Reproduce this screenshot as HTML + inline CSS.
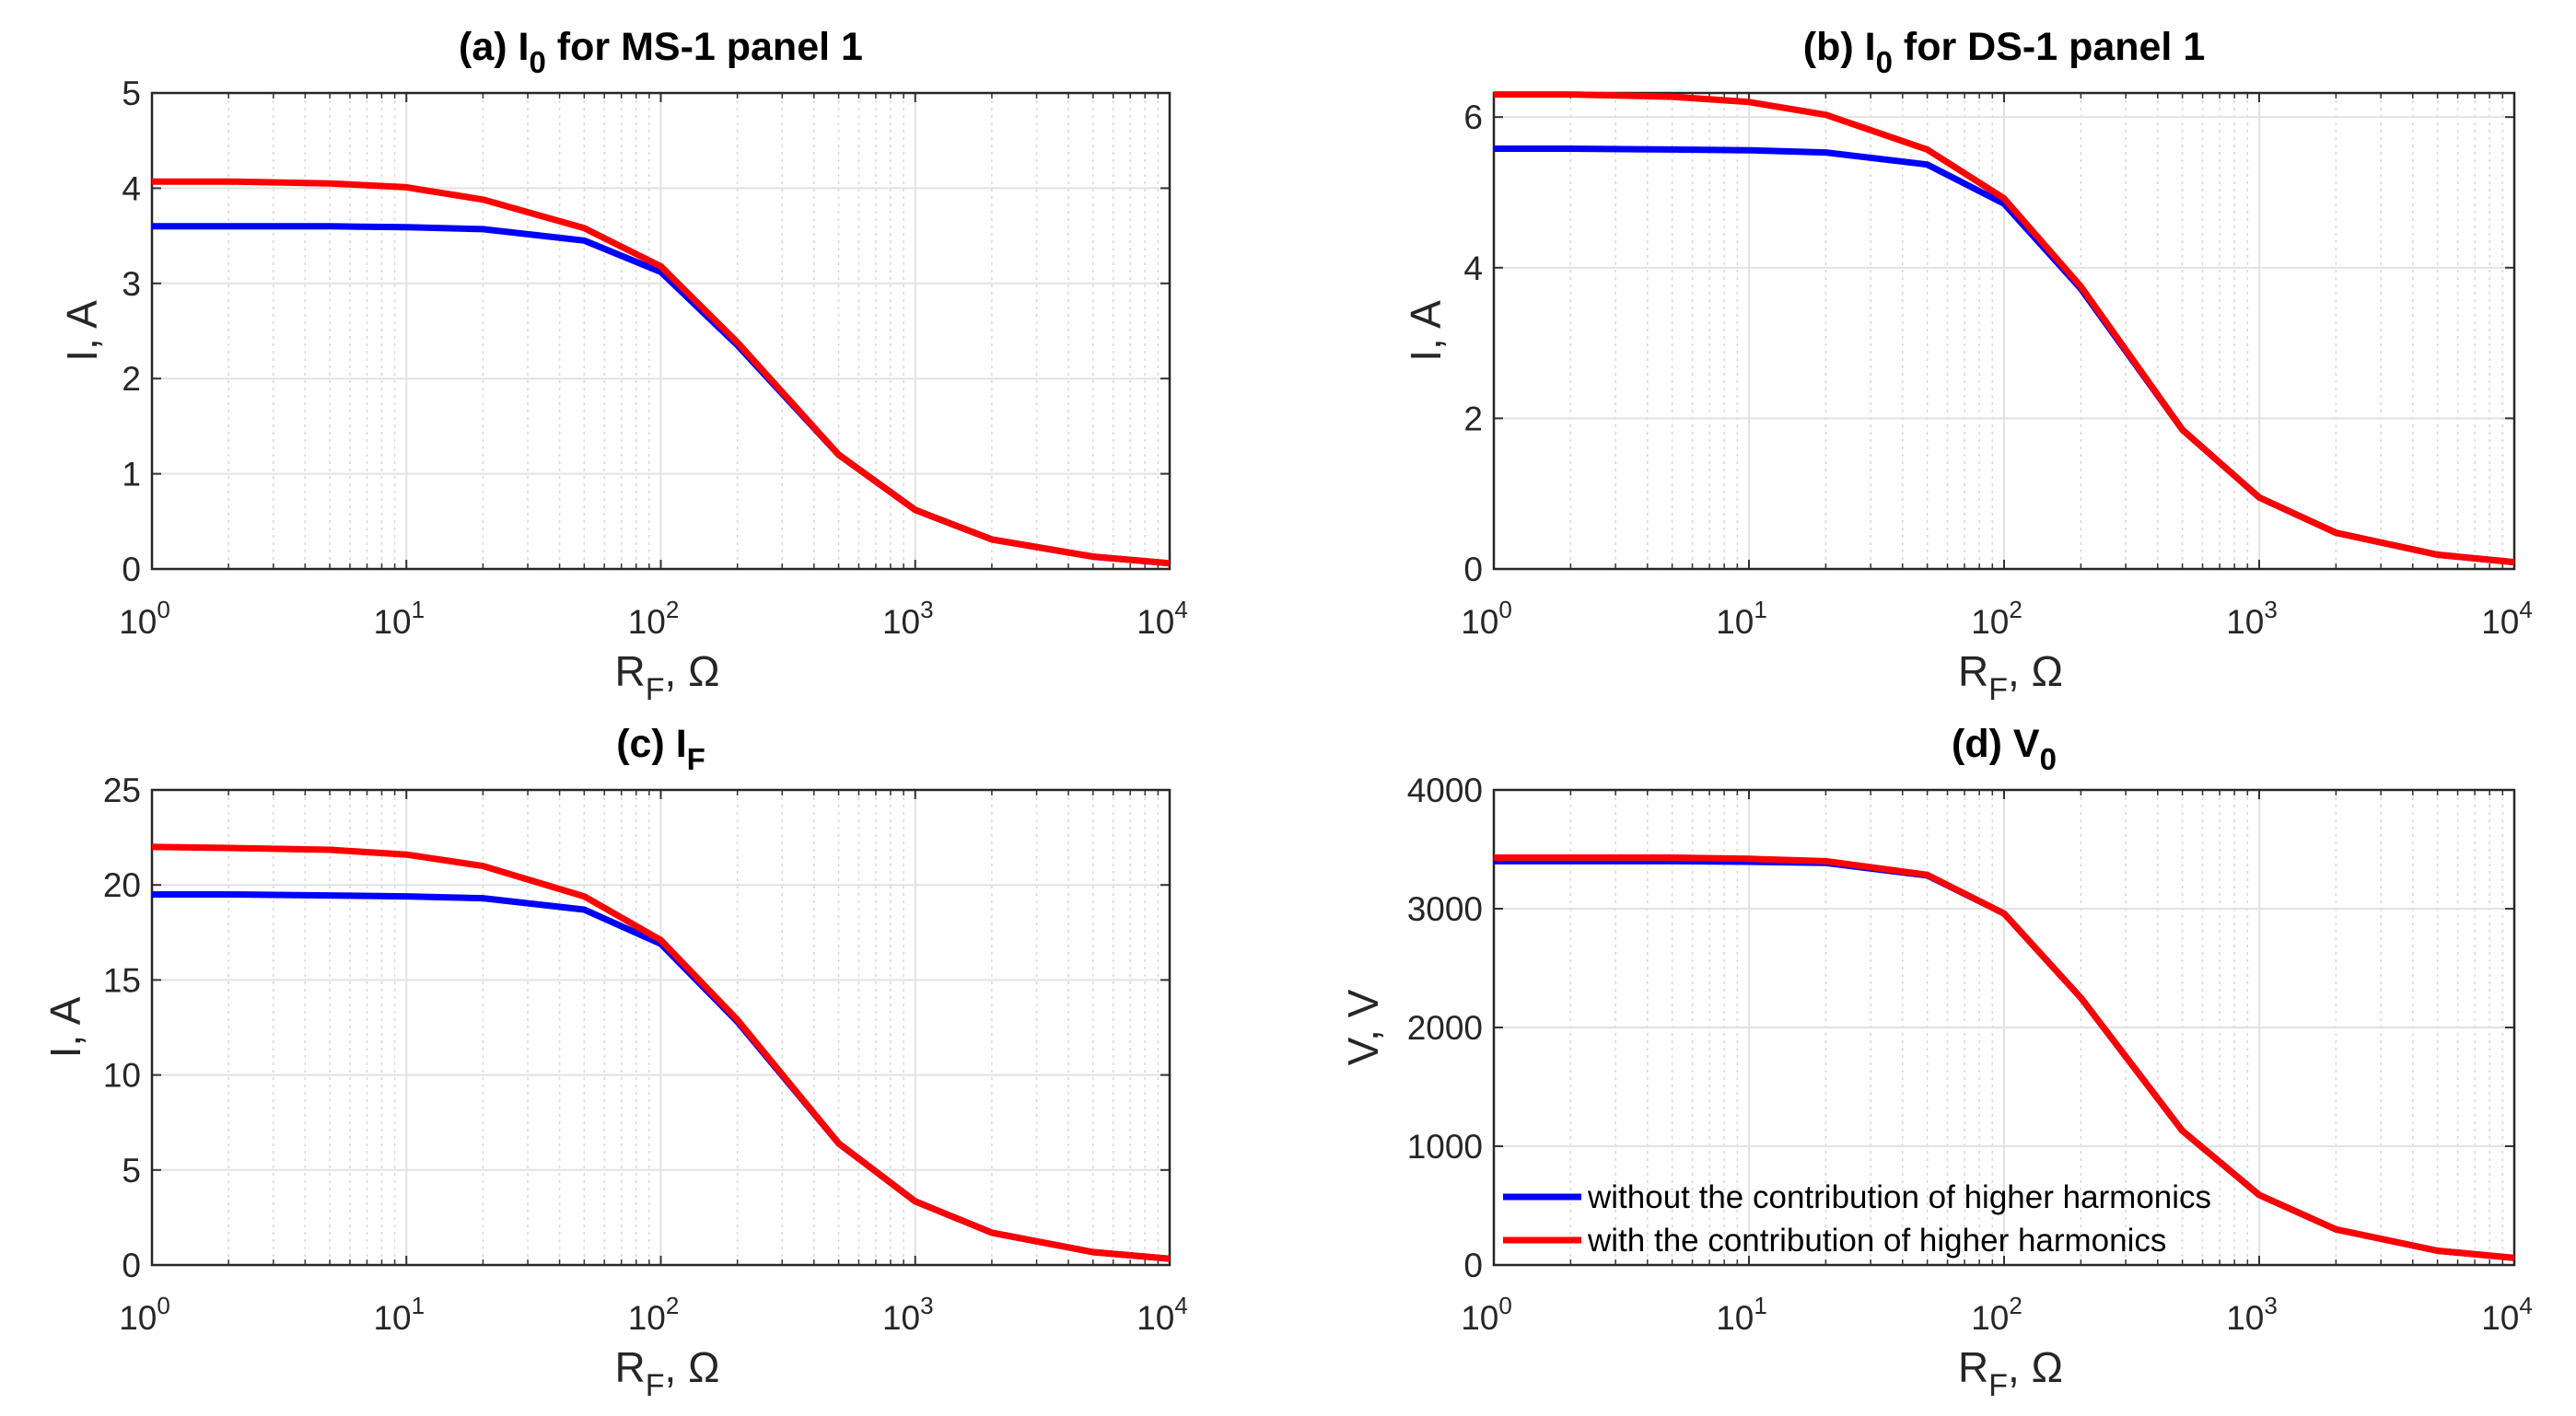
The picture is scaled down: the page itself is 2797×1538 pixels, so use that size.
<!DOCTYPE html>
<html><head><meta charset="utf-8"><style>
html,body{margin:0;padding:0;background:#fff;}
svg{display:block;font-family:"Liberation Sans",sans-serif;}
</style></head><body>
<svg id="fig" width="2797" height="1538" viewBox="0 0 2797 1538"></svg>
<script>
const xValues=[1,2,5,10,20,50,100,200,500,1000,2000,5000,10000];
const xTickLabels=["0","1","2","3","4"];
const aBlue=[3.6,3.6,3.6,3.59,3.57,3.45,3.12,2.35,1.2,0.62,0.31,0.13,0.06];
const aRed=[4.07,4.07,4.05,4.01,3.88,3.58,3.18,2.38,1.2,0.62,0.31,0.13,0.06];
const aTicks=[0,1,2,3,4,5];
const bBlue=[5.58,5.58,5.57,5.56,5.53,5.37,4.85,3.72,1.85,0.95,0.48,0.19,0.09];
const bRed=[6.3,6.3,6.27,6.2,6.03,5.57,4.92,3.75,1.85,0.95,0.48,0.19,0.09];
const bTicks=[0,2,4,6];
const cBlue=[19.5,19.5,19.45,19.4,19.3,18.7,16.9,12.8,6.4,3.35,1.7,0.68,0.33];
const cRed=[22,21.95,21.85,21.6,21,19.4,17.1,12.9,6.4,3.35,1.7,0.68,0.33];
const cTicks=[0,5,10,15,20,25];
const dBlue=[3400,3400,3400,3395,3385,3280,2960,2250,1130,590,300,120,60];
const dRed=[3430,3430,3430,3420,3400,3285,2960,2250,1130,590,300,120,60];
const dTicks=[0,1000,2000,3000,4000];

const NS="http://www.w3.org/2000/svg";
const svg=document.getElementById('fig');
function mk(tag,attrs,parent){const e=document.createElementNS(NS,tag);for(const k in attrs)e.setAttribute(k,attrs[k]);(parent||svg).appendChild(e);return e;}

function panel(id,L,R,T,B,ymin,ymax,ticks,blue,red,titleMain,titleSub,titleTail,ylab,ylabOff,legend){
  const g=mk('g',{});
  
  
  const xs=v=>L+(Math.log10(v)/4)*(R-L);
  const ys=v=>B-(v-ymin)/(ymax-ymin)*(B-T);
  for(let d=0;d<4;d++)for(let m=2;m<=9;m++){const x=xs(m*Math.pow(10,d));
    const ln=mk('line',{x1:x,x2:x,y1:T,y2:B,stroke:'#d8d8d8','stroke-width':1.5,'stroke-dasharray':'3,5'},g);
    
    }
  for(let d=1;d<4;d++){const x=xs(Math.pow(10,d));
    const ln=mk('line',{x1:x,x2:x,y1:T,y2:B,stroke:'#e2e2e2','stroke-width':2},g);
    
    }
  ticks.forEach(t=>{const y=ys(t);
    if(t>ymin&&t<ymax){const ln=mk('line',{x1:L,x2:R,y1:y,y2:y,stroke:'#e2e2e2','stroke-width':2},g);
      
      }
    mk('line',{x1:L,x2:L+10,y1:y,y2:y,stroke:'#333','stroke-width':2},g);
    mk('line',{x1:R,x2:R-10,y1:y,y2:y,stroke:'#333','stroke-width':2},g);
    const tx=mk('text',{x:L-12,y:y+13,'text-anchor':'end','font-size':37,fill:'#262626'},g);
    tx.textContent=t;
    
    
  });
  xTickLabels.forEach((lab,i)=>{const x=xs(Math.pow(10,i));
    mk('line',{x1:x,x2:x,y1:B,y2:B-10,stroke:'#333','stroke-width':2},g);
    mk('line',{x1:x,x2:x,y1:T,y2:T+10,stroke:'#333','stroke-width':2},g);
    const tx=mk('text',{x:x-8,y:B+70,'text-anchor':'middle','font-size':37,fill:'#262626'},g);
    tx.textContent='10';
    const sp=mk('tspan',{dy:-17,'font-size':26},tx);sp.textContent=lab;
    
    
  });
  for(let d=0;d<4;d++)for(let m=2;m<=9;m++){const x=xs(m*Math.pow(10,d));
    mk('line',{x1:x,x2:x,y1:B,y2:B-6,stroke:'#333','stroke-width':1.5},g);
    mk('line',{x1:x,x2:x,y1:T,y2:T+6,stroke:'#333','stroke-width':1.5},g);}
  const box=mk('rect',{x:L,y:T,width:R-L,height:B-T,fill:'none',stroke:'#262626','stroke-width':2.5},g);
  
  
  [[blue,'#0000ff','series-without-harmonics'],[red,'#ff0000','series-with-harmonics']].forEach(([arr,c,n])=>{
    const pts=arr.map((v,i)=>xs(xValues[i]).toFixed(1)+','+ys(v).toFixed(1)).join(' ');
    const pl=mk('polyline',{points:pts,fill:'none',stroke:c,'stroke-width':7,'stroke-linejoin':'round'},g);
    
    
  });
  const cx=(L+R)/2;
  const ti=mk('text',{x:cx,y:T-36,'text-anchor':'middle','font-size':43,'font-weight':'bold',fill:'#000'},g);
  ti.textContent=titleMain;
  const s=mk('tspan',{dy:14,'font-size':33},ti);s.textContent=titleSub;
  if(titleTail){const s2=mk('tspan',{dy:-14},ti);s2.textContent=titleTail;}
  
  
  const xl=mk('text',{x:cx-50,y:B+127,'font-size':46,fill:'#262626'},g);
  xl.textContent='R';
  const xs2=mk('tspan',{dy:15,'font-size':34},xl);xs2.textContent='F';
  const xs3=mk('tspan',{dy:-15},xl);xs3.textContent=', Ω';
  
  
  const yl=mk('text',{x:0,y:0,'text-anchor':'middle','font-size':46,fill:'#262626',transform:`translate(${L-ylabOff},${(T+B)/2}) rotate(-90)`},g);
  yl.textContent=ylab;
  
  
  if(legend){
    const lg=mk('g',{},g);
    
    
    [['#0000ff','without the contribution of higher harmonics',1300],['#ff0000','with the contribution of higher harmonics',1347]].forEach(([c,t,y])=>{
      mk('line',{x1:L+10,x2:L+95,y1:y,y2:y,stroke:c,'stroke-width':7},lg);
      const tx=mk('text',{x:L+102,y:y+12,'font-size':35,fill:'#000'},lg);tx.textContent=t;
      
      
    });
  }
}
panel('panel-a',165,1270,101,618,0,5,aTicks,aBlue,aRed,'(a) I','0',' for MS-1 panel 1','I, A',60,false);
panel('panel-b',1622,2730,101,618,0,6.32,bTicks,bBlue,bRed,'(b) I','0',' for DS-1 panel 1','I, A',58,false);
panel('panel-c',165,1270,858,1374,0,25,cTicks,cBlue,cRed,'(c) I','F','','I, A',78,false);
panel('panel-d',1622,2730,858,1374,0,4000,dTicks,dBlue,dRed,'(d) V','0','','V, V',126,true);
</script>
</body></html>
